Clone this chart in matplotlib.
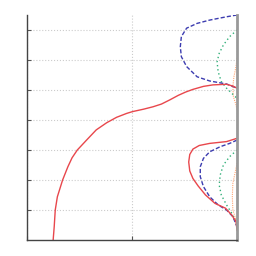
import matplotlib
matplotlib.use("Agg")
import matplotlib.pyplot as plt

# curves (x in 0..2, y in 0..7.5)
red_x = [0.25, 0.26, 0.27, 0.29, 0.34, 0.39, 0.43, 0.48, 0.568, 0.66, 0.76, 0.854, 0.95,
         1.006, 1.11, 1.20, 1.28, 1.36, 1.44, 1.51, 1.58, 1.68, 1.77, 1.90, 1.96, 2.0]
red_y = [0.0, 0.44, 1.0, 1.44, 2.0, 2.44, 2.74, 3.0, 3.33, 3.67, 3.91, 4.09, 4.22,
         4.28, 4.36, 4.44, 4.53, 4.67, 4.82, 4.93, 5.02, 5.12, 5.17, 5.19, 5.13, 5.06]
red2_x = [2.0, 1.90, 1.74, 1.64, 1.58, 1.55, 1.54, 1.55, 1.58, 1.63, 1.70, 1.79, 1.89,
          1.95, 1.99, 2.0]
red2_y = [3.39, 3.28, 3.22, 3.15, 3.03, 2.85, 2.6, 2.3, 2.05, 1.8, 1.5, 1.22, 1.06,
          0.83, 0.61, 0.33]

blue_x = [2.0, 1.90, 1.74, 1.62, 1.52, 1.47, 1.46, 1.47, 1.52, 1.62, 1.74, 1.90, 2.0]
blue_y = [7.5, 7.44, 7.33, 7.22, 7.06, 6.78, 6.44, 6.11, 5.78, 5.44, 5.3, 5.2, 5.06]
blue2_x = [2.0, 1.93, 1.84, 1.74, 1.68, 1.65, 1.65, 1.68, 1.74, 1.82, 1.90, 1.96, 2.0]
blue2_y = [3.33, 3.22, 3.11, 2.94, 2.72, 2.44, 2.11, 1.78, 1.44, 1.17, 1.0, 0.78, 0.44]

green_x = [2.0, 1.93, 1.87, 1.83, 1.81, 1.82, 1.85, 1.90, 1.95, 2.0]
green_y = [7.0, 6.78, 6.5, 6.22, 5.94, 5.61, 5.28, 5.06, 4.89, 4.72]
green2_x = [2.0, 1.93, 1.87, 1.84, 1.83, 1.85, 1.90, 1.95, 1.99, 2.0]
green2_y = [3.0, 2.78, 2.5, 2.17, 1.83, 1.5, 1.17, 0.89, 0.61, 0.4]

orange_x = [2.0, 1.99, 1.97, 1.96, 1.965, 1.99, 2.0]
orange_y = [6.06, 5.78, 5.44, 5.11, 4.78, 4.5, 4.33]
orange2_x = [2.0, 1.98, 1.96, 1.955, 1.96, 1.99, 2.0]
orange2_y = [2.56, 2.22, 1.89, 1.44, 1.0, 0.67, 0.44]

fig = plt.figure(figsize=(2.56, 2.56), dpi=100)
ax = fig.add_axes([0.105, 0.0625, 0.821, 0.879])

red, blue, green, orange = '#e8474c', '#3c3cb0', '#33b07a', '#ffa675'
ax.plot(orange_x, orange_y, color=orange, lw=0.8, ls=(0, (1, 1)))
ax.plot(orange2_x, orange2_y, color=orange, lw=0.8, ls=(0, (1, 1)))
ax.plot(green_x, green_y, color=green, lw=1.0, ls=(0, (1, 2)))
ax.plot(green2_x, green2_y, color=green, lw=1.0, ls=(0, (1, 2)))
ax.plot(blue_x, blue_y, color=blue, lw=1.0, ls=(0, (3, 1.5)))
ax.plot(blue2_x, blue2_y, color=blue, lw=1.0, ls=(0, (3, 1.5)))
ax.plot(red_x, red_y, color=red, lw=1.0)
ax.plot(red2_x, red2_y, color=red, lw=1.0)

ax.set_xlim(0, 2)
ax.set_ylim(0, 7.5)
ax.set_xticks([0, 1, 2])
ax.set_yticks([1, 2, 3, 4, 5, 6, 7])
ax.set_xticklabels([])
ax.set_yticklabels([])
ax.tick_params(direction='in', length=3, width=0.8, color='#555555')
ax.grid(True, color='#cccccc', ls=':', lw=0.8)

ax.spines['top'].set_visible(False)
ax.spines['right'].set_color('#999999')
ax.spines['right'].set_linewidth(2)
for s in ['left', 'bottom']:
    ax.spines[s].set_color('#444444')
    ax.spines[s].set_linewidth(1)

fig.savefig('out.png', dpi=100)
